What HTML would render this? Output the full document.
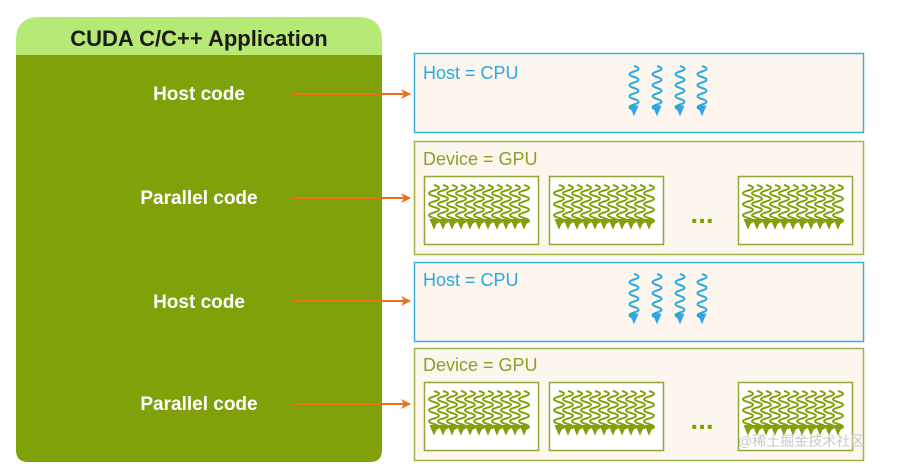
<!DOCTYPE html>
<html><head><meta charset="utf-8"><style>
body{margin:0;width:917px;height:469px;background:#fff;overflow:hidden;font-family:"Liberation Sans","Noto Sans CJK SC",sans-serif;}
</style></head><body>
<svg id="s" width="917" height="469" xmlns="http://www.w3.org/2000/svg">
<defs>
<marker id="ar" markerWidth="10" markerHeight="10" refX="9" refY="5" orient="auto" markerUnits="userSpaceOnUse">
<path d="M0,0 L10,5 L0,10 L3,5 Z" fill="#e8711a"/></marker>
</defs>
<path d="M16,55 L16,40 Q16,17 40,17 L358,17 Q382,17 382,40 L382,55 Z" fill="#b6ea74"/>
<path d="M16,55 L382,55 L382,450 Q382,462 370,462 L28,462 Q16,462 16,450 Z" fill="#7fa10a"/>
<text x="199" y="46" text-anchor="middle" font-size="22" font-weight="bold" fill="#1a1a1a">CUDA C/C++ Application</text>
<g font-size="19" font-weight="bold" fill="#fff" text-anchor="middle">
<text x="199" y="100">Host code</text>
<text x="199" y="204">Parallel code</text>
<text x="199" y="308">Host code</text>
<text x="199" y="410">Parallel code</text>
</g>
<g stroke="#e8711a" stroke-width="2" marker-end="url(#ar)">
<line x1="292" y1="94" x2="410" y2="94"/>
<line x1="292" y1="198" x2="410" y2="198"/>
<line x1="292" y1="301" x2="410" y2="301"/>
<line x1="292" y1="404" x2="410" y2="404"/>
</g>
<rect x="414.5" y="53.5" width="449" height="79" fill="#fcf6ee" stroke="#3bb0d8" stroke-width="1.5"/>
<rect x="414.5" y="141.5" width="449" height="113" fill="#fcf6ee" stroke="#a2b24a" stroke-width="1.5"/>
<rect x="414.5" y="262.5" width="449" height="79" fill="#fcf6ee" stroke="#3bb0d8" stroke-width="1.5"/>
<rect x="414.5" y="348.5" width="449" height="112" fill="#fcf6ee" stroke="#a2b24a" stroke-width="1.5"/>
<g font-size="18">
<text x="423" y="79" fill="#29a9df">Host = CPU</text>
<text x="423" y="165" fill="#8aa02a">Device = GPU</text>
<text x="423" y="286" fill="#29a9df">Host = CPU</text>
<text x="423" y="371" fill="#8aa02a">Device = GPU</text>
</g>
<g font-size="28" font-weight="bold" fill="#7fa10a" text-anchor="middle">
<text x="702" y="223">...</text>
<text x="702" y="429">...</text>
</g>
<g id="w"></g>
<text x="738" y="446" font-size="14" fill="#c8c8c8">@稀土掘金技术社区</text>
</svg>
<script>
var g=document.getElementById('w'),h='';
function wave(x,y0,y1,col,amp,per,sw,ah){
 var d='M'+x+','+y0,y=y0,s=1;
 while(y+per/2<=y1){d+=' Q'+(x+s*amp*2)+','+(y+per/4)+' '+x+','+(y+per/2);y+=per/2;s=-s;}
 h+='<path d="'+d+'" fill="none" stroke="'+col+'" stroke-width="'+sw+'"/>';
 h+='<path d="M'+(x-ah)+','+(y-ah)+' L'+x+','+(y+ah*1.4)+' L'+(x+ah)+','+(y-ah)+' Z" fill="'+col+'"/>';
}
[66,274].forEach(function(t){[634,657,680,702].forEach(function(x){wave(x,t,t+44,'#29a9df',4.5,11,2,4.5);});});
[[176],[382]].forEach(function(r){var t=r[0];[424,549,738].forEach(function(bx){
 h+='<rect x="'+(bx+0.5)+'" y="'+(t+0.5)+'" width="114" height="68" fill="#fff" stroke="#93a83a" stroke-width="1.5"/>';
 for(var i=0;i<11;i++){wave(bx+10+i*9,t+9,t+52,'#7fa10a',5,11,2,4.5);}
});});
g.innerHTML=h;
</script>
</body></html>
